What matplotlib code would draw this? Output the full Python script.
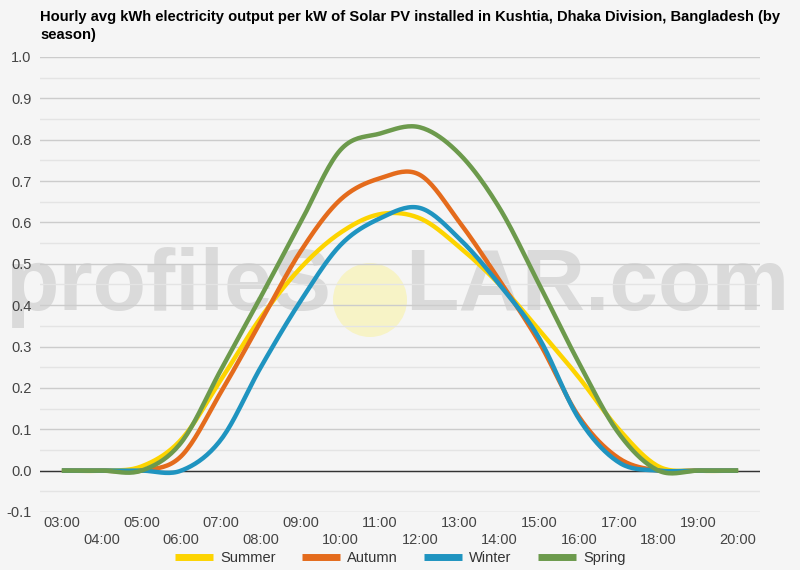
import numpy as np
import matplotlib.pyplot as plt
from matplotlib.patches import Circle
from matplotlib.transforms import IdentityTransform
from matplotlib.ticker import MultipleLocator

hours = list(range(3, 21))
hour_labels = ['%02d:00' % h for h in hours]

summer = [0, 0, 0.01, 0.075, 0.22, 0.37, 0.49, 0.575, 0.62, 0.61, 0.54, 0.45, 0.34, 0.225, 0.10, 0.01, 0, 0]
autumn = [0, 0, 0, 0.035, 0.19, 0.36, 0.53, 0.655, 0.707, 0.715, 0.60, 0.46, 0.31, 0.13, 0.03, 0, 0, 0]
winter = [0, 0, 0, 0, 0.075, 0.25, 0.41, 0.545, 0.61, 0.635, 0.56, 0.45, 0.32, 0.125, 0.02, 0, 0, 0]
spring = [0, 0, 0, 0.068, 0.244, 0.42, 0.60, 0.775, 0.815, 0.83, 0.765, 0.635, 0.45, 0.26, 0.09, 0, 0, 0]

series = [('Summer', summer, '#fdd400'),
          ('Autumn', autumn, '#e46b1c'),
          ('Winter', winter, '#1f94c0'),
          ('Spring', spring, '#6c9a4c')]


def smooth(x, y, n=20):
    # catmull-rom spline through the points (like the curved line option)
    x = np.asarray(x, float)
    y = np.asarray(y, float)
    m = np.gradient(y, x)
    xs, ys = [], []
    for i in range(len(x) - 1):
        t = np.linspace(0, 1, n, endpoint=False)
        h = x[i + 1] - x[i]
        h00 = 2 * t**3 - 3 * t**2 + 1
        h10 = t**3 - 2 * t**2 + t
        h01 = -2 * t**3 + 3 * t**2
        h11 = t**3 - t**2
        xs.append(x[i] + t * h)
        ys.append(h00 * y[i] + h10 * h * m[i] + h01 * y[i + 1] + h11 * h * m[i + 1])
    xs.append([x[-1]])
    ys.append([y[-1]])
    return np.concatenate(xs), np.concatenate(ys)


bg = '#f5f5f5'
fig = plt.figure(figsize=(8, 5.7), dpi=100, facecolor=bg)

# watermark (drawn under the axes)
fig.text(0.006, 0.456, 'profileS', fontsize=63, color='#dadada',
         family='Liberation Sans', fontweight='bold', zorder=-2)
fig.text(0.506, 0.456, 'LAR.com', fontsize=63, color='#dadada',
         family='Liberation Sans', fontweight='bold', zorder=-2)
fig.patches.append(Circle((370, 270), 37, transform=IdentityTransform(),
                          facecolor='#f7f3c6', edgecolor='none', zorder=-2))

ax = fig.add_axes([0.05, 0.1018, 0.90, 0.7982])
ax.patch.set_alpha(0)

for name, vals, col in series:
    sx, sy = smooth(hours, vals)
    ax.plot(sx, sy, color=col, lw=3.2, label=name, solid_capstyle='butt', zorder=3)

ax.axhline(0, color='#333333', lw=1, zorder=2)
ax.set_ylim(-0.1, 1.0)
ax.set_xlim(2.45, 20.55)
yt = np.round(np.arange(-0.1, 1.01, 0.1), 1)
ax.set_yticks(yt)
ax.set_yticklabels(['%.1f' % v for v in yt])
ax.yaxis.set_minor_locator(MultipleLocator(0.05))
ax.grid(axis='y', which='major', color='#cccccc', lw=1, zorder=1)
ax.grid(axis='y', which='minor', color='#e4e4e4', lw=1, zorder=1)
ax.set_axisbelow(True)
for s in ax.spines.values():
    s.set_visible(False)
ax.tick_params(axis='both', which='both', length=0)
ax.tick_params(axis='y', labelsize=10.5, labelcolor='#444444', pad=6)

ax.set_xticks(hours)
stag = [lab if i % 2 == 0 else '\n' + lab for i, lab in enumerate(hour_labels)]
ax.set_xticklabels(stag, fontsize=10.5, color='#444444', linespacing=1.3)
ax.tick_params(axis='x', pad=3)

for t in ax.get_xticklabels() + ax.get_yticklabels():
    t.set_family('Liberation Sans')

fig.text(0.05, 0.955, 'Hourly avg kWh electricity output per kW of Solar PV installed in Kushtia, Dhaka Division, Bangladesh (by\nseason)',
         fontsize=10.6, fontweight='bold', family='Liberation Sans', va='center', linespacing=1.35)

leg = fig.legend(loc='center', bbox_to_anchor=(0.5, 0.021), ncol=4, frameon=False,
                 prop={'family': 'Liberation Sans', 'size': 10.5}, handlelength=2.6,
                 columnspacing=1.8, handletextpad=0.5)
for t in leg.get_texts():
    t.set_color('#333333')
for l in leg.get_lines():
    l.set_linewidth(5)

fig.savefig('out.png', dpi=100, facecolor=bg)
